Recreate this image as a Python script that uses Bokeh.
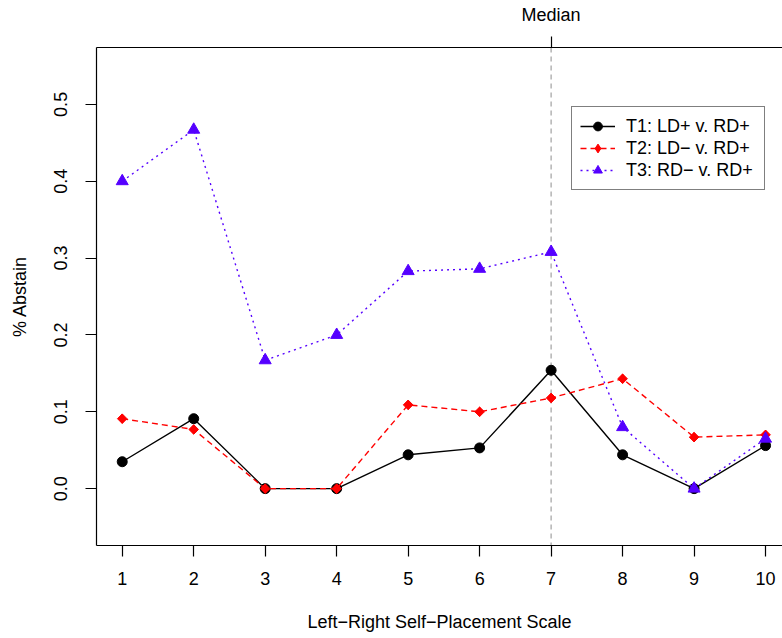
import math
from bokeh.plotting import figure
from bokeh.models import Range1d, FixedTicker, Span, Legend, LegendItem, LinearAxis
from bokeh.embed import file_html
from bokeh.resources import INLINE

# ---- data ----
scale = [1, 2, 3, 4, 5, 6, 7, 8, 9, 10]
t1 = [0.035, 0.091, 0.0, 0.0, 0.044, 0.053, 0.154, 0.044, 0.0, 0.056]
t2 = [0.091, 0.077, 0.0, 0.0, 0.109, 0.100, 0.118, 0.143, 0.067, 0.070]
t3 = [0.400, 0.467, 0.167, 0.200, 0.283, 0.286, 0.308, 0.080, 0.0, 0.065]
series_labels = ["T1: LD+ v. RD+", "T2: LD\u2212 v. RD+", "T3: RD\u2212 v. RD+"]
yticks = [0.0, 0.1, 0.2, 0.3, 0.4, 0.5]
ytick_labels = ["0.0", "0.1", "0.2", "0.3", "0.4", "0.5"]
median_x = 7
median_label = "Median"
x_title = "Left\u2212Right Self\u2212Placement Scale"
y_title = "% Abstain"

FONT = "Liberation Sans"
FS = "18px"

x_lo, x_hi = 0.64, 10.237
y_lo, y_hi = -0.074, 0.574

p = figure(width=782, height=638, output_backend="svg", toolbar_location=None,
           x_range=Range1d(x_lo, x_hi), y_range=Range1d(y_lo, y_hi),
           min_border_left=96, min_border_right=0, min_border_top=47, min_border_bottom=93)
p.outline_line_color = None
p.grid.visible = False
p.background_fill_color = "white"
p.border_fill_color = "white"

def style_axis(ax):
    ax.axis_line_color = "black"
    ax.axis_line_width = 1.2
    ax.major_tick_line_color = "black"
    ax.major_tick_line_width = 1.2
    ax.major_tick_in = 0
    ax.major_tick_out = 11
    ax.minor_tick_line_color = None
    ax.major_label_text_font = FONT
    ax.major_label_text_font_size = FS
    ax.major_label_text_color = "black"
    ax.axis_label_text_font = FONT
    ax.axis_label_text_font_size = FS
    ax.axis_label_text_font_style = "normal"
    ax.axis_label_text_color = "black"

xa = p.xaxis[0]
xa.ticker = FixedTicker(ticks=scale)
style_axis(xa)
xa.major_label_standoff = 15
xa.axis_label = x_title
xa.axis_label_standoff = 24

ya = p.yaxis[0]
ya.ticker = FixedTicker(ticks=yticks)
ya.major_label_overrides = {t: s for t, s in zip(yticks, ytick_labels)}
style_axis(ya)
ya.major_label_orientation = "vertical"
ya.major_label_standoff = 18
ya.axis_label = y_title
ya.axis_label_standoff = 22

top = LinearAxis(ticker=FixedTicker(ticks=[median_x]),
                 major_label_overrides={median_x: median_label})
style_axis(top)
top.major_label_standoff = 12
p.add_layout(top, "above")

span = Span(location=median_x, dimension="height", line_color="#A8A8A8",
            line_dash="5 4", line_width=1.3, level="underlay")
p.add_layout(span)

# series
l1 = p.line(scale, t1, line_color="black", line_width=1.4)
m1 = p.scatter(scale, t1, marker="circle", size=10, fill_color="black", line_color="black")
l2 = p.line(scale, t2, line_color="#FF0000", line_width=1.4, line_dash="6 4")
m2k = p.scatter(scale, t2, marker="diamond", size=9, fill_color="#FF0000", line_color="#FF0000")
m2 = p.scatter(scale, t2, marker="square", size=6.8, angle=math.pi / 4,
               fill_color="#FF0000", line_color="#FF0000")
l3 = p.line(scale, t3, line_color="#5500FF", line_width=1.4, line_dash="2 4")
m3 = p.scatter(scale, t3, marker="triangle", size=12, fill_color="#5500FF", line_color="#5500FF")

legend = Legend(items=[LegendItem(label=series_labels[0], renderers=[l1, m1]),
                       LegendItem(label=series_labels[1], renderers=[l2, m2k]),
                       LegendItem(label=series_labels[2], renderers=[l3, m3])],
                location=(475, 355), padding=8, spacing=0, margin=0,
                label_height=22, glyph_height=22, glyph_width=35,
                label_standoff=11, label_width=130,
                border_line_color="black", border_line_width=1,
                background_fill_color="white", background_fill_alpha=1,
                label_text_font=FONT, label_text_font_size=FS, label_text_color="black")
p.add_layout(legend)

open("out.html", "w").write(file_html(p, INLINE))
